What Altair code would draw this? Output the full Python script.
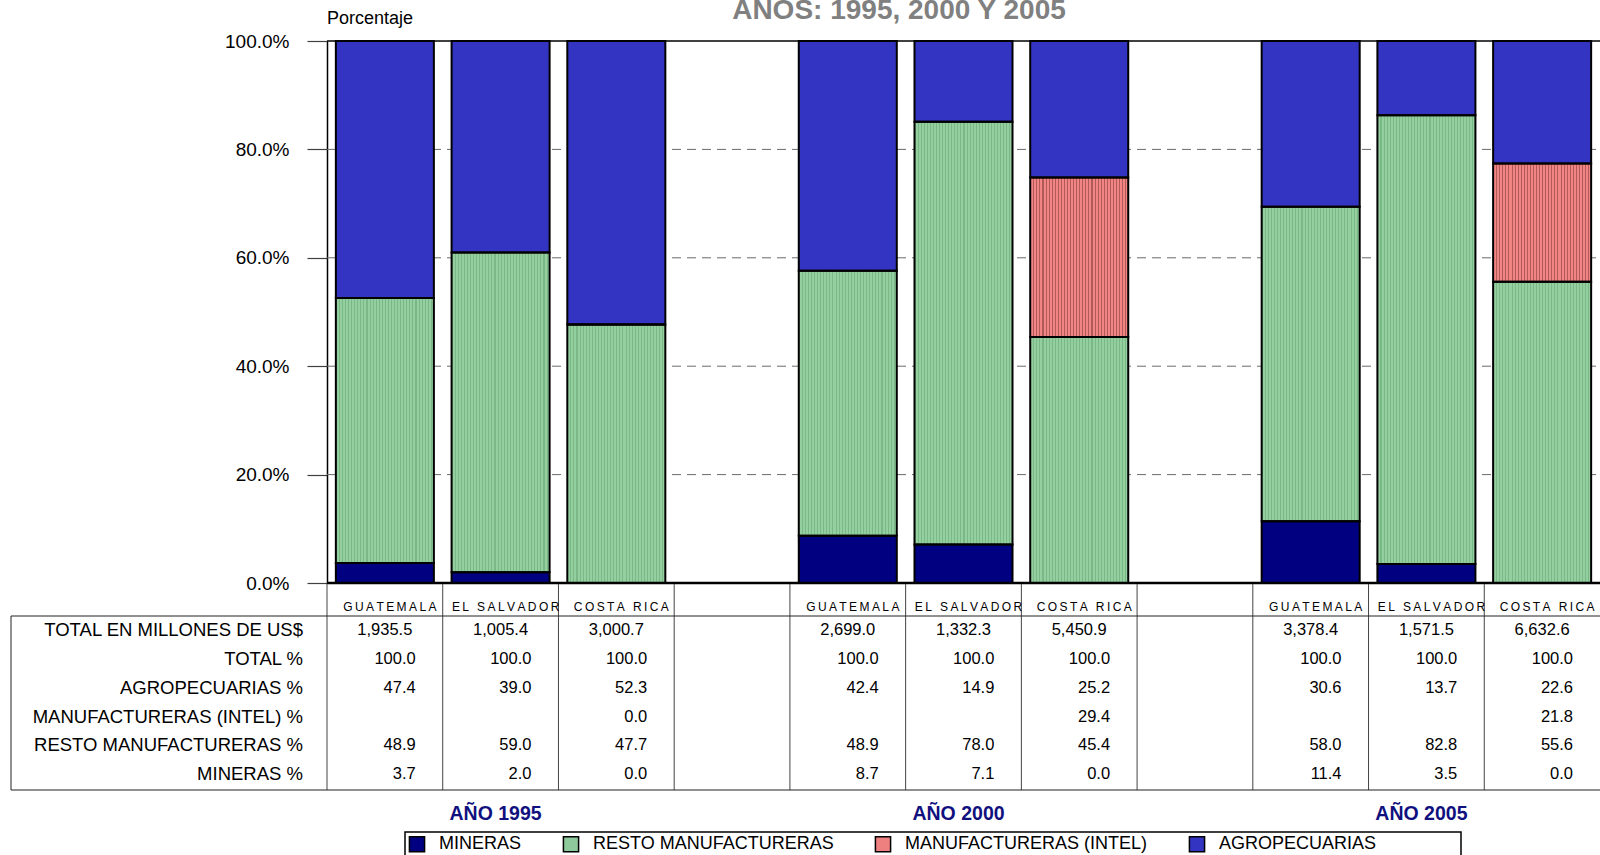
import altair as alt
import pandas as pd

# Exportaciones por sector: Guatemala, El Salvador y Costa Rica
years = ["1995", "2000", "2005"]
countries = ["GUATEMALA", "EL SALVADOR", "COSTA RICA"]
series = ["MINERAS", "RESTO MANUFACTURERAS", "MANUFACTURERAS (INTEL)", "AGROPECUARIAS"]
series_colors = ["#000080", "#8DC99A", "#EF8080", "#3434C2"]

# one value per (year, country), in the order 1995 G/ES/CR, 2000 G/ES/CR, 2005 G/ES/CR
total_musd = [1935.5, 1005.4, 3000.7, 2699.0, 1332.3, 5450.9, 3378.4, 1571.5, 6632.6]
total_pct = [100.0, 100.0, 100.0, 100.0, 100.0, 100.0, 100.0, 100.0, 100.0]
agro_pct = [47.4, 39.0, 52.3, 42.4, 14.9, 25.2, 30.6, 13.7, 22.6]
intel_pct = [None, None, 0.0, None, None, 29.4, None, None, 21.8]
resto_pct = [48.9, 59.0, 47.7, 48.9, 78.0, 45.4, 58.0, 82.8, 55.6]
mineras_pct = [3.7, 2.0, 0.0, 8.7, 7.1, 0.0, 11.4, 3.5, 0.0]

y_ticks = [0, 20, 40, 60, 80, 100]
grid_values = [20, 40, 60, 80]

row_labels = ["TOTAL EN MILLONES DE US$", "TOTAL %", "AGROPECUARIAS %",
              "MANUFACTURERAS (INTEL) %", "RESTO MANUFACTURERAS %", "MINERAS %"]

# ---- layout ----
W, H = 1273, 542
row_y = [589, 617.5, 646.5, 675.5, 704, 733]
FONT = "Liberation Sans"

# ---- tables ----
cells = [(y, c) for y in years for c in countries]
col_ids = [f"{y}|{c}" for y, c in cells]
col_domain = col_ids[0:3] + ["sep-a"] + col_ids[3:6] + ["sep-b"] + col_ids[6:9]


def spaced(s):
    return "\u2009 \u2009".join("\u2009".join(w) for w in s.split(" "))


cols_df = pd.DataFrame({
    "col": col_ids,
    "pais": [spaced(c) for _, c in cells],
    "total": total_musd,
    "r1": total_pct,
    "r2": agro_pct,
    "r3": intel_pct,
    "r4": resto_pct,
    "r5": mineras_pct,
})
all_cols_df = pd.DataFrame({"col": col_domain})

values_by_series = [mineras_pct, resto_pct, intel_pct, agro_pct]
bar_rows = []
for k, (name, vals) in enumerate(zip(series, values_by_series)):
    for cid, v in zip(col_ids, vals):
        if v is not None:
            bar_rows.append({"col": cid, "serie": name, "ord": k, "value": v})
bar_df = pd.DataFrame(bar_rows)

year_df = pd.DataFrame({"col": [f"{y}|EL SALVADOR" for y in years],
                        "txt": [f"AÑO {y}" for y in years]})
grid_df = pd.DataFrame({"g": grid_values})
one = pd.DataFrame({"k": [0]})

x_scale = alt.Scale(type="band", domain=col_domain, paddingInner=0, paddingOuter=0)
y_scale = alt.Scale(domain=[0, 100], nice=False)


def stripe_gradient(base, line, n=32, frac=0.34):
    stops = []
    for k in range(n):
        a, b, c = k / n, (k + frac) / n, (k + 1) / n
        stops += [alt.GradientStop(color=line, offset=a),
                  alt.GradientStop(color=line, offset=b),
                  alt.GradientStop(color=base, offset=b),
                  alt.GradientStop(color=base, offset=c)]
    return alt.LinearGradient(gradient="linear", stops=stops, x1=0, x2=1, y1=0, y2=0)


stacked = alt.Chart(bar_df).transform_stack(
    stack="value", groupby=["col"], as_=["lo", "hi"],
    sort=[alt.SortField("ord", order="ascending")],
)
bar_w = alt.RelativeBandSize(0.847)

grid = alt.Chart(grid_df).mark_rule(color="#6a6a6a", strokeDash=[9, 6], strokeWidth=1).encode(
    y=alt.Y("g:Q", scale=y_scale), x=alt.value(0), x2=alt.value(W)
)

bars = stacked.mark_bar(width=bar_w, strokeWidth=0).encode(
    x=alt.X("col:N", scale=x_scale, axis=None),
    y=alt.Y("lo:Q", scale=y_scale, axis=alt.Axis(
        values=y_ticks, labelExpr="format(datum.value, '.1f') + '%'", title=None,
        grid=False, tickSize=20, tickColor="#404040", tickWidth=1.2,
        domainColor="black", domainWidth=1.5, labelFontSize=19, labelColor="black",
        labelPadding=18, labelFont=FONT)),
    y2="hi:Q",
    color=alt.Color("serie:N", scale=alt.Scale(domain=series, range=series_colors),
                    legend=alt.Legend(
                        orient="none", legendX=78, legendY=791, direction="horizontal",
                        title=None, symbolType="square", symbolSize=230,
                        symbolStrokeColor="black", symbolStrokeWidth=1.5,
                        labelFontSize=18, labelFont=FONT, labelColor="black",
                        labelLimit=400, labelOffset=13, columnPadding=38,
                        padding=3)),
)

resto_stripes = stacked.transform_filter(alt.datum.serie == series[1]).mark_bar(
    width=bar_w, strokeWidth=0, fill=stripe_gradient("#93CF9F", "#7BB887")
).encode(x=alt.X("col:N", scale=x_scale), y=alt.Y("lo:Q", scale=y_scale), y2="hi:Q")

intel_stripes = stacked.transform_filter(alt.datum.serie == series[2]).mark_bar(
    width=bar_w, strokeWidth=0, fill=stripe_gradient("#F38484", "#B05A5A")
).encode(x=alt.X("col:N", scale=x_scale), y=alt.Y("lo:Q", scale=y_scale), y2="hi:Q")

outline = stacked.mark_bar(width=bar_w, fill="transparent", stroke="black", strokeWidth=2).encode(
    x=alt.X("col:N", scale=x_scale), y=alt.Y("lo:Q", scale=y_scale), y2="hi:Q"
)

frame_top = alt.Chart(one).mark_rule(color="black", strokeWidth=1.5).encode(
    y=alt.datum(100), x=alt.value(0), x2=alt.value(W)
)
baseline = alt.Chart(one).mark_rule(color="black", strokeWidth=2.5).encode(
    y=alt.datum(0), x=alt.value(0), x2=alt.value(W)
)

# table grid
col_lines = alt.Chart(all_cols_df).mark_rule(color="#444444", strokeWidth=1).encode(
    x=alt.X("col:N", scale=x_scale, bandPosition=0), y=alt.value(H + 1), y2=alt.value(749)
)
table_top = alt.Chart(one).mark_rule(color="#222222", strokeWidth=1).encode(
    x=alt.value(-316), x2=alt.value(W), y=alt.value(575)
)
table_bottom = alt.Chart(one).mark_rule(color="#222222", strokeWidth=1).encode(
    x=alt.value(-316), x2=alt.value(W), y=alt.value(749)
)
table_left = alt.Chart(one).mark_rule(color="#222222", strokeWidth=1).encode(
    x=alt.value(-316), y=alt.value(575), y2=alt.value(749)
)

# legend frame
legend_box = alt.Chart(one).mark_rect(fill="white", stroke="black", strokeWidth=1.5).encode(
    x=alt.value(78), x2=alt.value(1134), y=alt.value(791), y2=alt.value(830)
)

country_text = alt.Chart(cols_df).mark_text(fontSize=12, font=FONT, color="black", dx=5,
                                            baseline="middle").encode(
    x=alt.X("col:N", scale=x_scale), y=alt.value(566), text="pais:N"
)

table_layers = []
table_layers.append(alt.Chart(cols_df).mark_text(fontSize=16.5, font=FONT, color="black",
                                                 baseline="middle").encode(
    x=alt.X("col:N", scale=x_scale), y=alt.value(row_y[0]),
    text=alt.Text("total:Q", format=",.1f")))
for i, field in enumerate(["r1", "r2", "r3", "r4", "r5"], start=1):
    table_layers.append(
        alt.Chart(cols_df).transform_filter(f"isValid(datum.{field})").mark_text(
            fontSize=16.5, font=FONT, color="black", align="right", dx=-27, baseline="middle"
        ).encode(x=alt.X("col:N", scale=x_scale, bandPosition=1), y=alt.value(row_y[i]),
                 text=alt.Text(f"{field}:Q", format=",.1f")))

row_label_layers = []
for i, lab in enumerate(row_labels):
    row_label_layers.append(
        alt.Chart(one).mark_text(text=lab, fontSize=18.5, font=FONT, color="black",
                                 align="right", baseline="middle").encode(
            x=alt.value(-24), y=alt.value(row_y[i])))

year_text = alt.Chart(year_df).mark_text(fontSize=19.5, fontWeight="bold", font=FONT,
                                         color="#10107F", baseline="middle", dx=-5).encode(
    x=alt.X("col:N", scale=x_scale), y=alt.value(773), text="txt:N"
)

title_text = alt.Chart(one).mark_text(
    text="AÑOS:  1995, 2000 Y 2005", fontSize=28, fontWeight="bold", font=FONT,
    color="#808080", baseline="alphabetic", align="center"
).encode(x=alt.value(572), y=alt.value(-22))

y_title = alt.Chart(one).mark_text(
    text="Porcentaje", fontSize=18, font=FONT, color="black", align="left",
    baseline="alphabetic"
).encode(x=alt.value(0), y=alt.value(-17))

chart = alt.layer(
    grid, bars, resto_stripes, intel_stripes, outline, frame_top, baseline,
    col_lines, table_top, table_bottom, table_left, legend_box, country_text,
    *table_layers, *row_label_layers, year_text, title_text, y_title,
).properties(
    width=W, height=H, autosize="none",
    padding={"left": 327, "top": 41, "right": 0, "bottom": 855 - 41 - H},
).configure(font=FONT).configure_view(stroke="transparent")

chart.save("out.html", embed_options={"renderer": "svg", "actions": False})
